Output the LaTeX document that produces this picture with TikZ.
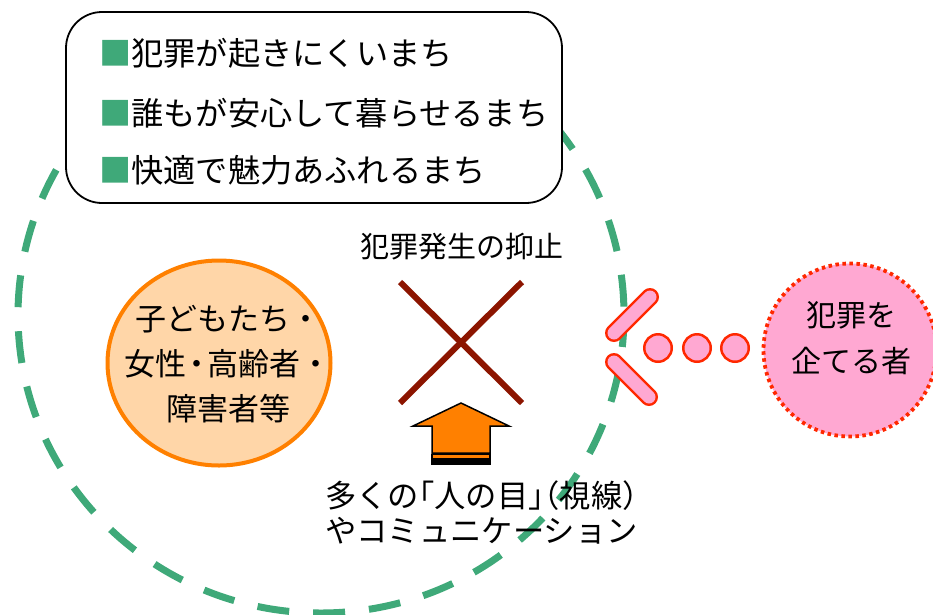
\documentclass[tikz,border=0pt]{standalone}
\usepackage{fontspec}
\setmainfont{Noto Sans CJK JP}
\usetikzlibrary{shapes.geometric}
\definecolor{zonegreen}{RGB}{63,169,121}
\definecolor{xred}{RGB}{140,21,0}
\definecolor{arroworange}{RGB}{255,128,0}
\definecolor{peach}{RGB}{255,214,168}
\definecolor{pinkfill}{RGB}{255,168,210}
\definecolor{redline}{RGB}{255,40,0}
\begin{document}
\begin{tikzpicture}[x=1pt,y=-1pt,
  zone/.style={draw=zonegreen, line width=7pt, dash pattern=on 32pt off 24pt},
  goalbox/.style={draw=black, line width=1.8pt, rounded corners=36pt, fill=white},
  goaltext/.style={anchor=west, inner sep=0pt, font=\fontsize{32.2}{36}\selectfont},
  lbl/.style={inner sep=0pt, align=center},
  xstroke/.style={draw=xred, line width=6pt},
  uparrow/.style={fill=arroworange, draw=black, line width=1.5pt, line join=miter},
  peoplecircle/.style={ellipse, draw=arroworange, fill=peach, line width=4pt, inner sep=0pt},
  capsout/.style={line width=18pt, draw=redline, line cap=round},
  capsin/.style={line width=13pt, draw=pinkfill, line cap=round},
  dotcircle/.style={circle, fill=pinkfill, draw=redline, line width=2.5pt, inner sep=0pt, minimum size=27.5pt},
  offender/.style={circle, fill=pinkfill, draw=redline, line width=3.8pt, dash pattern=on 3.5pt off 3.5pt, inner sep=0pt, minimum size=173pt},
]
\useasboundingbox (0,0) rectangle (933,614);
% dashed zone
\draw[zone] (321,315) ellipse[x radius=303, y radius=298];
% goals box
\node[goalbox, minimum width=496pt, minimum height=191pt] (goals) at (314,107.5) {};
\node[goaltext] (g1) at (99,53) {\textcolor{zonegreen}{■}犯罪が起きにくいまち};
\node[goaltext] (g2) at (99,113) {\textcolor{zonegreen}{■}誰もが安心して暮らせるまち};
\node[goaltext] (g3) at (99,170) {\textcolor{zonegreen}{■}快適で魅力あふれるまち};
% people
\node[peoplecircle, minimum width=223pt, minimum height=205pt] (people) at (219,363) {};
\node[lbl, font=\fontsize{31}{45}\selectfont] (peopletext) at (228,364) {子どもたち・\\女性\kern-0.15em・\kern-0.15em高齢者・\\障害者等};
% suppression
\node[lbl, font=\fontsize{29}{35}\selectfont] (suppress) at (462,247) {犯罪発生の抑止};
\coordinate (xa) at (400,282);
\coordinate (xb) at (522,403);
\coordinate (xc) at (522,282);
\coordinate (xd) at (400,403);
\draw[xstroke] (xa) -- (xb);
\draw[xstroke] (xc) -- (xd);
% arrow
\draw[uparrow] (461,403) -- (509,426) -- (490,426) -- (490,453) -- (432,453) -- (432,426) -- (413,426) -- cycle;
\draw[fill=arroworange, draw=black, line width=1.5pt] (432,454.5) rectangle (490,459);
\fill[black] (431.25,459) rectangle (490.75,464.5);
\node[lbl, font=\fontsize{31.3}{35}\selectfont] (eyes) at (481.5,512) {多くの\kern-0.5em「人の目」\kern-1em（視線）\kern-0.5em\\やコミュニケーション};
% barrier
\coordinate (b1a) at (614,333);
\coordinate (b1b) at (650,297);
\coordinate (b2a) at (614,362);
\coordinate (b2b) at (649,397);
\draw[capsout] (b1a) -- (b1b);
\draw[capsin] (b1a) -- (b1b);
\draw[capsout] (b2a) -- (b2b);
\draw[capsin] (b2a) -- (b2b);
\node[dotcircle] (d1) at (658,348) {};
\node[dotcircle] (d2) at (697,348) {};
\node[dotcircle] (d3) at (735,348) {};
% offender
\node[offender] (offender) at (850,350) {};
\node[lbl, font=\fontsize{30}{46}\selectfont] (offtext) at (851,338) {犯罪を\\企てる者};
\end{tikzpicture}
\end{document}
